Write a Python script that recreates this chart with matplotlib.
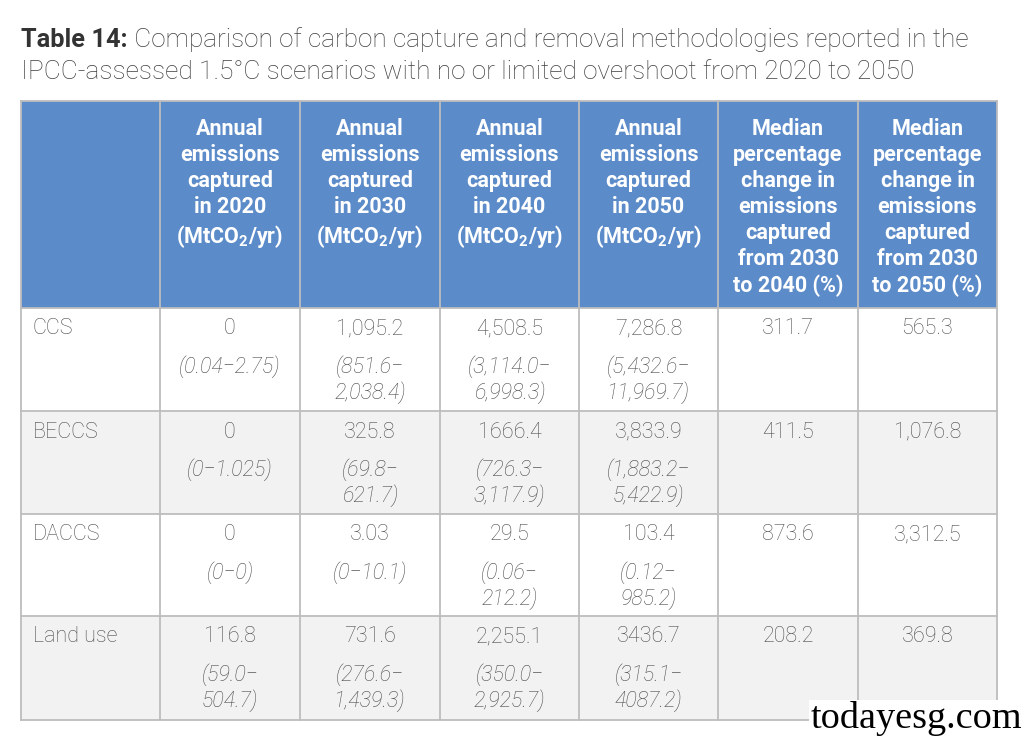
import matplotlib.pyplot as plt
from matplotlib.patches import Rectangle

plt.rcParams["font.family"] = ["Roboto", "DejaVu Sans"]
plt.rcParams["mathtext.fontset"] = "custom"
plt.rcParams["mathtext.rm"] = "Roboto"
plt.rcParams["mathtext.bf"] = "Roboto:bold"
plt.rcParams["mathtext.it"] = "Roboto:italic"

title_bold = "Table 14:"
title_rest = " Comparison of carbon capture and removal methodologies reported in the"
title_line2 = "IPCC-assessed 1.5°C scenarios with no or limited overshoot from 2020 to 2050"

headers = [
    "",
    "Annual\nemissions\ncaptured\nin 2020\n(MtCO$_{\\mathbf{2}}$/yr)",
    "Annual\nemissions\ncaptured\nin 2030\n(MtCO$_{\\mathbf{2}}$/yr)",
    "Annual\nemissions\ncaptured\nin 2040\n(MtCO$_{\\mathbf{2}}$/yr)",
    "Annual\nemissions\ncaptured\nin 2050\n(MtCO$_{\\mathbf{2}}$/yr)",
    "Median\npercentage\nchange in\nemissions\ncaptured\nfrom 2030\nto 2040 (%)",
    "Median\npercentage\nchange in\nemissions\ncaptured\nfrom 2030\nto 2050 (%)",
]
methods = ["CCS", "BECCS", "DACCS", "Land use"]
medians = [
    ["0", "1,095.2", "4,508.5", "7,286.8", "311.7", "565.3"],
    ["0", "325.8", "1666.4", "3,833.9", "411.5", "1,076.8"],
    ["0", "3.03", "29.5", "103.4", "873.6", "3,312.5"],
    ["116.8", "731.6", "2,255.1", "3436.7", "208.2", "369.8"],
]
ranges = [
    ["(0.04\u22122.75)", "(851.6\u2212\n2,038.4)", "(3,114.0\u2212\n6,998.3)", "(5,432.6\u2212\n11,969.7)", "", ""],
    ["(0\u22121.025)", "(69.8\u2212\n621.7)", "(726.3\u2212\n3,117.9)", "(1,883.2\u2212\n5,422.9)", "", ""],
    ["(0\u22120)", "(0\u221210.1)", "(0.06\u2212\n212.2)", "(0.12\u2212\n985.2)", "", ""],
    ["(59.0\u2212\n504.7)", "(276.6\u2212\n1,439.3)", "(350.0\u2212\n2,925.7)", "(315.1\u2212\n4087.2)", "", ""],
]

header_blue = "#5b8bc9"
grid_grey = "#bdbdbd"
alt_grey = "#f2f2f2"
body_col = "#4d4d4d"

col_edges = [21, 160, 300, 440, 579, 718, 858, 997]
row_edges = [101, 308, 411, 514, 616, 720]

fig = plt.figure(figsize=(10.24, 7.36), dpi=100)
ax = fig.add_axes([0, 0, 1, 1])
ax.set_xlim(0, 1024)
ax.set_ylim(736, 0)
ax.axis("off")

# title
t1 = ax.text(21, 40, title_bold, fontsize=18.3, fontweight="bold", color="#333333", va="center", ha="left")
fig.canvas.draw()
bb = t1.get_window_extent()
x_after = ax.transData.inverted().transform((bb.x1, bb.y0))[0]
ax.text(x_after, 40, title_rest, fontsize=18.8, fontweight="light", color="#3f3f3f", va="center", ha="left")
ax.text(21, 72, title_line2, fontsize=18.9, fontweight="light", color="#3f3f3f", va="center", ha="left")

# header background
ax.add_patch(Rectangle((col_edges[0], row_edges[0]), col_edges[-1] - col_edges[0],
                       row_edges[1] - row_edges[0], facecolor=header_blue, edgecolor="none"))
# body backgrounds
for i in range(len(methods)):
    fc = "white" if i % 2 == 0 else alt_grey
    ax.add_patch(Rectangle((col_edges[0], row_edges[i + 1]), col_edges[-1] - col_edges[0],
                           row_edges[i + 2] - row_edges[i + 1], facecolor=fc, edgecolor="none"))

# grid lines
for x in col_edges:
    ax.plot([x, x], [row_edges[0], row_edges[-1]], color=grid_grey, lw=1.3)
for y in row_edges:
    ax.plot([col_edges[0], col_edges[-1]], [y, y], color=grid_grey, lw=1.3)

# header text
for j, h in enumerate(headers):
    if not h:
        continue
    cx = (col_edges[j] + col_edges[j + 1]) / 2
    ax.text(cx, row_edges[0] + 17, h, fontsize=15.5, fontweight="bold", color="white",
            ha="center", va="top", linespacing=1.24)

# body
for i, m in enumerate(methods):
    top = row_edges[i + 1]
    ax.text(33, top + 21, m, fontsize=15.5, fontweight="light", color=body_col, ha="left", va="center")
    for j in range(6):
        cx = (col_edges[j + 1] + col_edges[j + 2]) / 2
        ax.text(cx, top + 21, medians[i][j], fontsize=15.5, fontweight="light", color=body_col,
                ha="center", va="center")
        if ranges[i][j]:
            ax.text(cx, top + 47, ranges[i][j], fontsize=15.5, fontweight="light", style="italic",
                    color=body_col, ha="center", va="top", linespacing=1.22)

# watermark
ax.text(1022, 719, "todayesg.com", fontsize=27.5, family="Liberation Serif", color="black",
        ha="right", va="center",
        bbox=dict(facecolor="white", edgecolor="none", pad=1))

fig.savefig("out.png", dpi=100)
